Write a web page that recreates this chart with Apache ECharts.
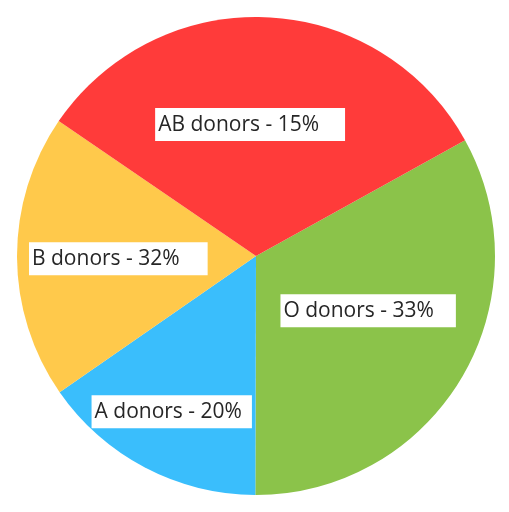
<!DOCTYPE html>
<html>
<head>
<meta charset="utf-8">
<script src="https://cdn.jsdelivr.net/npm/echarts@6/dist/echarts.min.js"></script>
<style>html,body{margin:0;padding:0;background:#fff}#c{width:509px;height:512px}</style>
</head>
<body>
<div id="c"></div>
<script>
// Slices, clockwise from the upper right
const categories = ["O donors", "A donors", "B donors", "AB donors"];
const sliceValues = [33.1, 15.3, 19.2, 32.4];
const labelPercents = ["33%", "20%", "32%", "15%"];
const colors = ["#8BC34A", "#3ABEFC", "#FFC94B", "#FF3B3A"];

// label box offsets (from the default inside position) and right padding, in px
const labelOffsets = [[-81, -7.5], [-107.5, 47.2], [-104.5, 2.4], [-106.6, -9.1]];
const labelRightPad = [22, 10, 28, 26];

const chart = echarts.init(document.getElementById('c'), null, {renderer: 'canvas'});
chart.setOption({
  animation: false,
  series: [{
    type: 'pie',
    center: [256, 256],
    radius: 239,
    startAngle: 29,
    clockwise: true,
    avoidLabelOverlap: false,
    itemStyle: {borderWidth: 0},
    emphasis: {disabled: true},
    label: {
      show: true,
      position: 'inside',
      fontFamily: 'Open Sans',
      fontSize: 21,
      color: '#262626',
      backgroundColor: '#ffffff',
      lineHeight: 25,
      formatter: p => categories[p.dataIndex] + ' - ' + labelPercents[p.dataIndex]
    },
    labelLine: {show: false},
    labelLayout: p => ({
      dx: labelOffsets[p.dataIndex][0],
      dy: labelOffsets[p.dataIndex][1],
      align: 'left',
      verticalAlign: 'middle'
    }),
    data: categories.map((n, i) => ({
      name: n,
      value: sliceValues[i],
      itemStyle: {color: colors[i]},
      label: {padding: [4, labelRightPad[i], 4, 3]}
    }))
  }]
});
</script>
</body>
</html>
